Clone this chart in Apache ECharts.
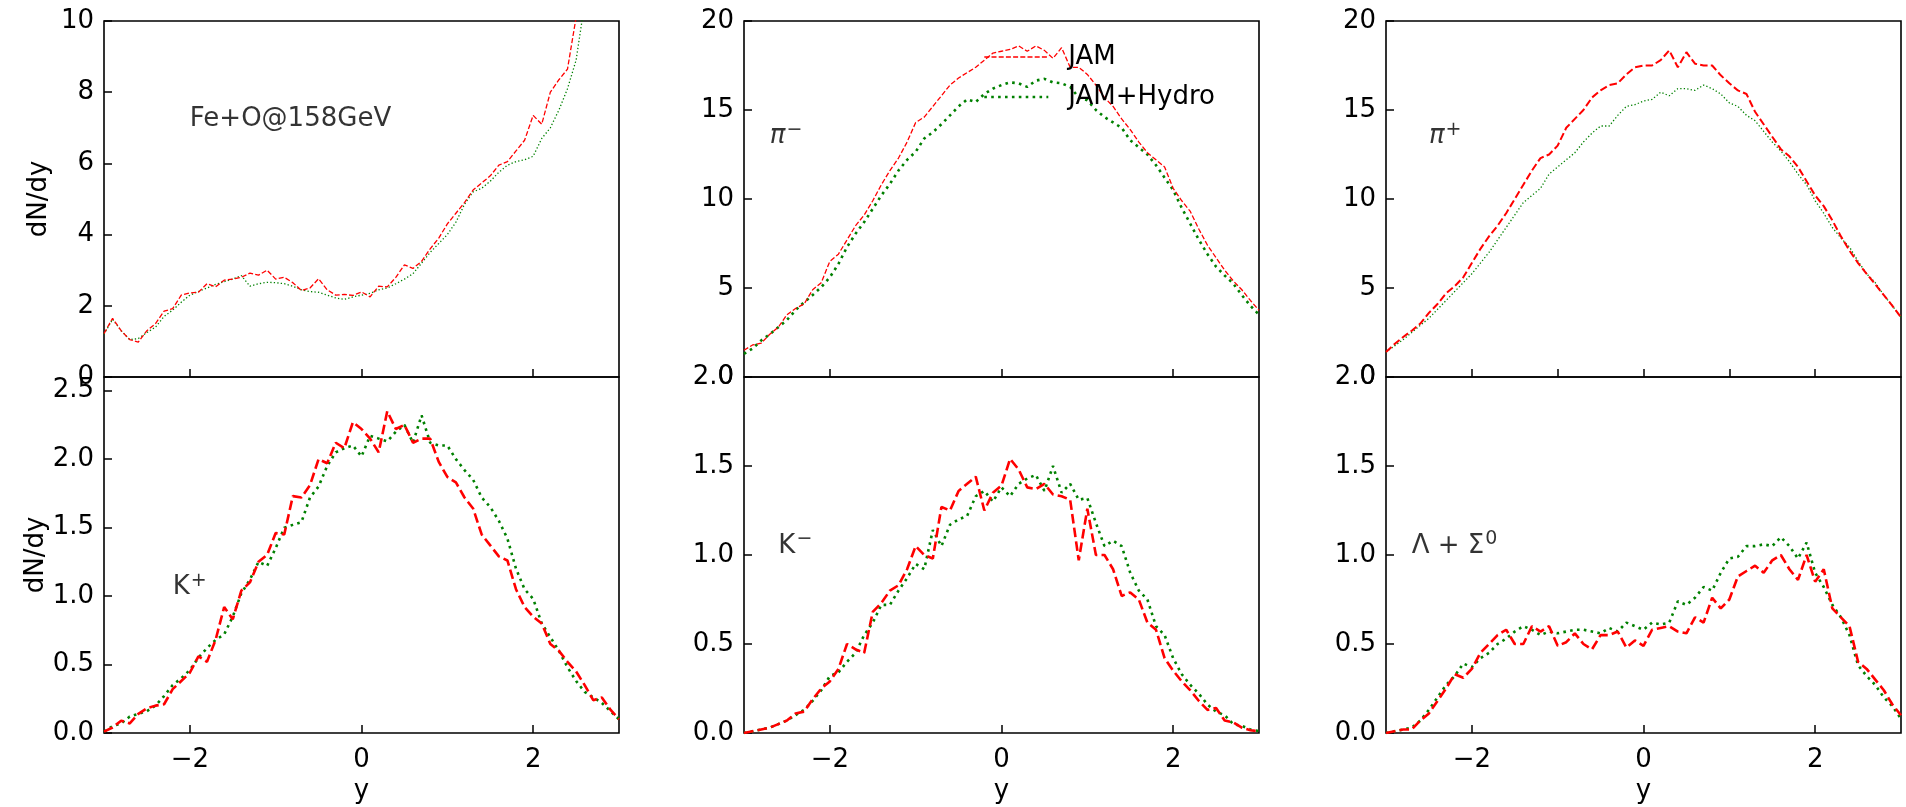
<!DOCTYPE html>
<html>
<head>
<meta charset="utf-8">
<script src="https://cdn.jsdelivr.net/npm/echarts@6.0.0/dist/echarts.min.js"></script>
<style>
  html, body { margin: 0; padding: 0; background: #fff; }
  #chart { width: 1906px; height: 807px; }
</style>
</head>
<body>
<div id="chart"></div>
<script>
// ---------------- data ----------------
const yRapidity = [
  -3.0, -2.9, -2.8, -2.7, -2.6, -2.5, -2.4, -2.3, -2.2, -2.1,
  -2.0, -1.9, -1.8, -1.7, -1.6, -1.5, -1.4, -1.3, -1.2, -1.1,
  -1.0, -0.9, -0.8, -0.7, -0.6, -0.5, -0.4, -0.3, -0.2, -0.1,
   0.0,  0.1,  0.2,  0.3,  0.4,  0.5,  0.6,  0.7,  0.8,  0.9,
   1.0,  1.1,  1.2,  1.3,  1.4,  1.5,  1.6,  1.7,  1.8,  1.9,
   2.0,  2.1,  2.2,  2.3,  2.4,  2.5,  2.6,  2.7,  2.8,  2.9, 3.0
];

// Fe+O (top-left)
const feoJam = [
  1.22, 1.65, 1.30, 1.05, 0.98, 1.30, 1.50, 1.85, 1.92, 2.30,
  2.36, 2.38, 2.62, 2.53, 2.72, 2.75, 2.80, 2.92, 2.86, 3.00,
  2.75, 2.80, 2.65, 2.43, 2.50, 2.76, 2.45, 2.30, 2.32, 2.29,
  2.39, 2.25, 2.55, 2.53, 2.80, 3.15, 3.05, 3.25, 3.60, 3.90,
  4.30, 4.60, 4.90, 5.25, 5.45, 5.65, 5.95, 6.05, 6.35, 6.65,
  7.35, 7.10, 8.00, 8.35, 8.65, 10.1, 12.0, 14.0, 16.0, 18.0, 20.0
];
const feoHydro = [
  1.20, 1.62, 1.30, 1.05, 1.08, 1.25, 1.40, 1.70, 1.88, 2.10,
  2.30, 2.40, 2.50, 2.60, 2.68, 2.75, 2.85, 2.55, 2.62, 2.66,
  2.65, 2.62, 2.55, 2.45, 2.40, 2.38, 2.30, 2.22, 2.18, 2.25,
  2.30, 2.35, 2.45, 2.50, 2.62, 2.75, 2.90, 3.20, 3.50, 3.75,
  4.00, 4.35, 4.85, 5.20, 5.30, 5.50, 5.75, 5.95, 6.05, 6.10,
  6.20, 6.70, 7.00, 7.50, 8.10, 8.90, 10.5, 12.5, 14.5, 16.5, 19.0
];

// pi- (top-middle)
const piMinusJam = [
  1.5, 1.8, 1.9, 2.4, 2.8, 3.5, 3.85, 4.1, 4.9, 5.3,
  6.5, 6.9, 7.7, 8.5, 9.1, 9.9, 10.8, 11.6, 12.3, 13.2,
  14.3, 14.6, 15.2, 15.8, 16.4, 16.8, 17.1, 17.4, 17.8, 18.2,
  18.3, 18.4, 18.6, 18.3, 18.6, 18.35, 17.9, 18.5, 17.4, 17.4,
  17.0, 16.4, 15.7, 15.2, 14.5, 13.9, 13.2, 12.6, 12.2, 11.8,
  10.6, 9.9, 9.3, 8.3, 7.4, 6.7, 6.0, 5.4, 4.9, 4.3, 3.75
];
const piMinusHydro = [
  1.3, 1.6, 2.05, 2.4, 2.8, 3.2, 3.75, 4.2, 4.6, 5.05,
  5.6, 6.35, 7.3, 8.05, 8.7, 9.45, 10.2, 10.85, 11.6, 12.2,
  12.65, 13.4, 13.75, 14.2, 14.7, 15.2, 15.6, 15.45, 15.9, 16.2,
  16.4, 16.55, 16.5, 16.3, 16.65, 16.75, 16.55, 16.5, 16.3, 15.7,
  15.55, 15.0, 14.6, 14.3, 14.0, 13.3, 12.9, 12.5, 11.9, 11.2,
  10.5, 9.5, 8.6, 7.7, 6.9, 6.2, 5.7, 5.25, 4.6, 4.0, 3.5
];

// pi+ (top-right)
const piPlusJam = [
  1.4, 1.85, 2.25, 2.6, 3.0, 3.6, 4.1, 4.7, 5.1, 5.6,
  6.4, 7.2, 7.9, 8.5, 9.2, 10.0, 10.8, 11.6, 12.3, 12.5,
  13.0, 14.0, 14.5, 15.0, 15.7, 16.1, 16.4, 16.5, 17.0, 17.4,
  17.5, 17.5, 17.8, 18.35, 17.4, 18.25, 17.6, 17.5, 17.5, 16.95,
  16.5, 16.1, 15.9, 14.9, 14.2, 13.5, 12.8, 12.4, 11.8, 11.0,
  10.2, 9.6, 8.8, 7.9, 7.1, 6.4, 5.8, 5.2, 4.6, 4.0, 3.35
];
const piPlusHydro = [
  1.4, 1.75, 2.1, 2.5, 2.9, 3.3, 3.8, 4.3, 4.8, 5.3,
  5.8, 6.4, 7.0, 7.7, 8.4, 9.1, 9.8, 10.2, 10.6, 11.4,
  11.8, 12.2, 12.6, 13.2, 13.7, 14.1, 14.1, 14.7, 15.2, 15.3,
  15.5, 15.6, 16.0, 15.8, 16.2, 16.2, 16.1, 16.4, 16.2, 15.9,
  15.4, 15.2, 14.7, 14.4, 13.8, 13.2, 12.7, 12.1, 11.4, 10.8,
  9.9, 9.2, 8.4, 7.8, 7.3, 6.5, 5.8, 5.3, 4.6, 4.0, 3.35
];

// K+ (bottom-left)
const kPlusJam = [
  0.01, 0.04, 0.09, 0.07, 0.14, 0.18, 0.20, 0.21, 0.32, 0.38,
  0.44, 0.56, 0.52, 0.68, 0.92, 0.83, 1.04, 1.10, 1.25, 1.30,
  1.46, 1.45, 1.73, 1.72, 1.81, 2.00, 1.97, 2.12, 2.08, 2.27,
  2.22, 2.15, 2.05, 2.35, 2.22, 2.25, 2.12, 2.15, 2.15, 1.98,
  1.87, 1.83, 1.72, 1.64, 1.45, 1.37, 1.29, 1.26, 1.05, 0.92,
  0.85, 0.80, 0.65, 0.60, 0.52, 0.45, 0.35, 0.24, 0.26, 0.17, 0.10
];
const kPlusHydro = [
  0.01, 0.05, 0.07, 0.12, 0.14, 0.16, 0.20, 0.27, 0.35, 0.40,
  0.46, 0.55, 0.62, 0.68, 0.72, 0.85, 1.02, 1.12, 1.25, 1.22,
  1.35, 1.50, 1.52, 1.54, 1.72, 1.80, 1.95, 2.05, 2.08, 2.10,
  2.02, 2.17, 2.15, 2.13, 2.20, 2.25, 2.12, 2.32, 2.12, 2.10,
  2.10, 2.00, 1.92, 1.85, 1.72, 1.65, 1.55, 1.42, 1.20, 1.05,
  0.98, 0.80, 0.70, 0.60, 0.48, 0.38, 0.30, 0.26, 0.22, 0.16, 0.10
];

// K- (bottom-middle)
const kMinusJam = [
  0.00, 0.01, 0.02, 0.03, 0.05, 0.07, 0.11, 0.12, 0.19, 0.25,
  0.29, 0.36, 0.50, 0.47, 0.45, 0.68, 0.73, 0.80, 0.83, 0.92,
  1.05, 1.00, 0.98, 1.27, 1.25, 1.36, 1.40, 1.44, 1.25, 1.35,
  1.39, 1.54, 1.48, 1.38, 1.37, 1.40, 1.34, 1.33, 1.31, 0.97,
  1.26, 1.00, 1.00, 0.92, 0.77, 0.79, 0.75, 0.62, 0.58, 0.42,
  0.35, 0.29, 0.24, 0.18, 0.13, 0.14, 0.07, 0.06, 0.03, 0.015, 0.01
];
const kMinusHydro = [
  0.00, 0.01, 0.02, 0.03, 0.05, 0.07, 0.10, 0.13, 0.18, 0.24,
  0.32, 0.34, 0.40, 0.45, 0.55, 0.62, 0.72, 0.72, 0.80, 0.87,
  0.95, 0.92, 1.14, 1.05, 1.17, 1.20, 1.22, 1.33, 1.36, 1.30,
  1.38, 1.33, 1.40, 1.43, 1.45, 1.36, 1.50, 1.35, 1.40, 1.31,
  1.32, 1.18, 1.05, 1.08, 1.05, 0.90, 0.80, 0.75, 0.60, 0.55,
  0.42, 0.33, 0.27, 0.22, 0.16, 0.12, 0.10, 0.05, 0.04, 0.02, 0.01
];

// Lambda + Sigma0 (bottom-right)
const lambdaJam = [
  0.00, 0.01, 0.02, 0.02, 0.07, 0.11, 0.18, 0.25, 0.33, 0.31,
  0.36, 0.45, 0.50, 0.55, 0.58, 0.50, 0.50, 0.60, 0.57, 0.60,
  0.49, 0.51, 0.56, 0.50, 0.47, 0.55, 0.55, 0.57, 0.48, 0.52,
  0.49, 0.58, 0.59, 0.60, 0.57, 0.56, 0.65, 0.62, 0.76, 0.70,
  0.75, 0.88, 0.91, 0.94, 0.90, 0.97, 1.00, 0.92, 0.86, 1.00,
  0.85, 0.92, 0.70, 0.65, 0.60, 0.40, 0.36, 0.30, 0.24, 0.16, 0.10
];
const lambdaHydro = [
  0.00, 0.01, 0.02, 0.03, 0.07, 0.13, 0.20, 0.27, 0.32, 0.39,
  0.37, 0.42, 0.45, 0.50, 0.53, 0.57, 0.60, 0.58, 0.55, 0.57,
  0.56, 0.57, 0.58, 0.58, 0.57, 0.56, 0.59, 0.57, 0.62, 0.60,
  0.58, 0.62, 0.61, 0.62, 0.74, 0.72, 0.76, 0.82, 0.80, 0.90,
  0.98, 0.99, 1.05, 1.05, 1.06, 1.05, 1.10, 1.05, 0.98, 1.07,
  0.90, 0.82, 0.72, 0.65, 0.55, 0.38, 0.32, 0.27, 0.20, 0.15, 0.08
];

// tick values
const xTicks = [-2, 0, 2];
const xTicksFine = [-2, -1, 0, 1, 2];
const yTicksFeo = [0, 2, 4, 6, 8, 10];
const yTicksPion = [0, 5, 10, 15, 20];
const yTicksKPlus = [0, 0.5, 1.0, 1.5, 2.0, 2.5];
const yTicksLow = [0, 0.5, 1.0, 1.5, 2.0];

// panel annotations: [x, y, text]
const panelLabels = [
  [-2.0, 7, '{n|Fe+O@158GeV}'],
  [-2.7, 13, '{it|π}{sup|−}'],
  [-2.5, 13, '{it|π}{sup|+}'],
  [-2.2, 1.0, '{n|K}{sup|+}'],
  [-2.6, 1.0, '{n|K}{sup|−}'],
  [-2.7, 1.0, '{n|Λ + Σ}{sup|0}']
];

const seriesNames = ['JAM', 'JAM+Hydro'];

// ---------------- layout / styles ----------------
const FONT = 'DejaVu Sans';
const colLeft = [104, 744, 1386];
const rowTop = [21, 377];
const GW = 515, GH = 356;

const RED = '#ff0000';
const GREEN = '#008000';
const thinDash = { width: 1.3, type: [5, 2.2] };
const medDash = { width: 2.0, type: [7.5, 3.2] };
const thickDash = { width: 2.6, type: [9.6, 4.2] };
const thinDot = { width: 1.3, type: [1.3, 2.2] };
const thickDot = { width: 2.6, type: [2.6, 4.3] };

const panels = [
  { jam: feoJam, hydro: feoHydro, yMax: 10, yTicks: yTicksFeo, xT: xTicks, dec: 0, jamStyle: thinDash, hydroStyle: thinDot },
  { jam: piMinusJam, hydro: piMinusHydro, yMax: 20, yTicks: yTicksPion, xT: xTicks, dec: 0, jamStyle: thinDash, hydroStyle: thickDot },
  { jam: piPlusJam, hydro: piPlusHydro, yMax: 20, yTicks: yTicksPion, xT: xTicksFine, dec: 0, jamStyle: medDash, hydroStyle: thinDot },
  { jam: kPlusJam, hydro: kPlusHydro, yMax: 2.6, yTicks: yTicksKPlus, xT: xTicks, dec: 1, jamStyle: thickDash, hydroStyle: thickDot },
  { jam: kMinusJam, hydro: kMinusHydro, yMax: 2.0, yTicks: yTicksLow, xT: xTicks, dec: 1, jamStyle: thickDash, hydroStyle: thickDot },
  { jam: lambdaJam, hydro: lambdaHydro, yMax: 2.0, yTicks: yTicksLow, xT: xTicks, dec: 1, jamStyle: thickDash, hydroStyle: thickDot }
];

function pairs(ys) { return yRapidity.map((x, i) => [x, ys[i]]); }
function fmtX(v) { return v < 0 ? '\u2212' + Math.abs(v) : String(v); }

const grids = [], xAxes = [], yAxes = [], series = [];
const tickStyle = { color: '#000', width: 1.5 };
const labelRich = {
  n: { fontSize: 26, fontFamily: FONT, color: '#000', lineHeight: 30 },
  it: { fontSize: 26, fontFamily: FONT, fontStyle: 'italic', color: '#000', lineHeight: 30 },
  sup: { fontSize: 19, fontFamily: FONT, color: '#000', lineHeight: 16, padding: [0, 0, 13, 1] }
};

panels.forEach((p, i) => {
  const row = Math.floor(i / 3), col = i % 3;
  const bottomRow = row === 1, leftCol = col === 0;
  grids.push({
    left: colLeft[col], top: rowTop[row], width: GW, height: GH,
    show: true, borderColor: '#000', borderWidth: 1.6, backgroundColor: 'transparent'
  });
  xAxes.push({
    type: 'value', gridIndex: i, min: -3, max: 3,
    axisLine: { show: false, onZero: false },
    splitLine: { show: false },
    axisTick: { show: true, inside: true, length: 8, lineStyle: tickStyle, customValues: p.xT },
    axisLabel: {
      show: bottomRow, customValues: p.xT, formatter: fmtX,
      fontSize: 26, fontFamily: FONT, color: '#000', margin: 14
    },
    name: bottomRow ? 'y' : '', nameLocation: 'middle', nameGap: 45,
    nameTextStyle: { fontSize: 26, fontFamily: FONT, color: '#000' }
  });
  yAxes.push({
    type: 'value', gridIndex: i, min: 0, max: p.yMax,
    axisLine: { show: false, onZero: false },
    splitLine: { show: false },
    axisTick: { show: true, inside: true, length: 8, lineStyle: tickStyle, customValues: p.yTicks },
    axisLabel: {
      customValues: p.yTicks, formatter: v => v.toFixed(p.dec),
      fontSize: 26, fontFamily: FONT, color: '#000', margin: 10
    },
    name: leftCol ? 'dN/dy' : '', nameLocation: 'middle', nameGap: 52, nameRotate: 90,
    nameTextStyle: { fontSize: 26, fontFamily: FONT, color: '#000' }
  });
  series.push({
    name: seriesNames[0], type: 'line', xAxisIndex: i, yAxisIndex: i,
    data: pairs(p.jam), symbol: 'none', clip: true, z: 3,
    lineStyle: Object.assign({ color: RED }, p.jamStyle), itemStyle: { color: RED }
  });
  series.push({
    name: seriesNames[1], type: 'line', xAxisIndex: i, yAxisIndex: i,
    data: pairs(p.hydro), symbol: 'none', clip: true, z: 2,
    lineStyle: Object.assign({ color: GREEN }, p.hydroStyle), itemStyle: { color: GREEN }
  });
  const lab = panelLabels[i];
  series.push({
    name: 'label' + i, type: 'scatter', xAxisIndex: i, yAxisIndex: i,
    data: [[lab[0], lab[1]]], symbolSize: 0, silent: true, z: 5,
    label: {
      show: true, position: [0, 0], align: 'left', verticalAlign: 'bottom',
      offset: [0, 6], formatter: lab[2], rich: labelRich
    }
  });
});

const hiddenSymbol = { color: 'rgba(0,0,0,0)', borderWidth: 0, opacity: 0 };
const chart = echarts.init(document.getElementById('chart'), null, { renderer: 'canvas' });
chart.setOption({
  animation: false,
  backgroundColor: '#fff',
  textStyle: { fontFamily: FONT },
  grid: grids,
  xAxis: xAxes,
  yAxis: yAxes,
  legend: {
    orient: 'vertical', left: 983, top: 42, padding: 0,
    itemWidth: 64, itemHeight: 14, itemGap: 10, selectedMode: false,
    data: [
      { name: seriesNames[0], lineStyle: Object.assign({ color: RED }, thinDash), itemStyle: hiddenSymbol },
      { name: seriesNames[1], lineStyle: Object.assign({ color: GREEN }, thickDot), itemStyle: hiddenSymbol }
    ],
    textStyle: { fontSize: 26, fontFamily: FONT, color: '#000', lineHeight: 30, padding: [0, 0, 0, 15] }
  },
  series: series
});
</script>
</body>
</html>
